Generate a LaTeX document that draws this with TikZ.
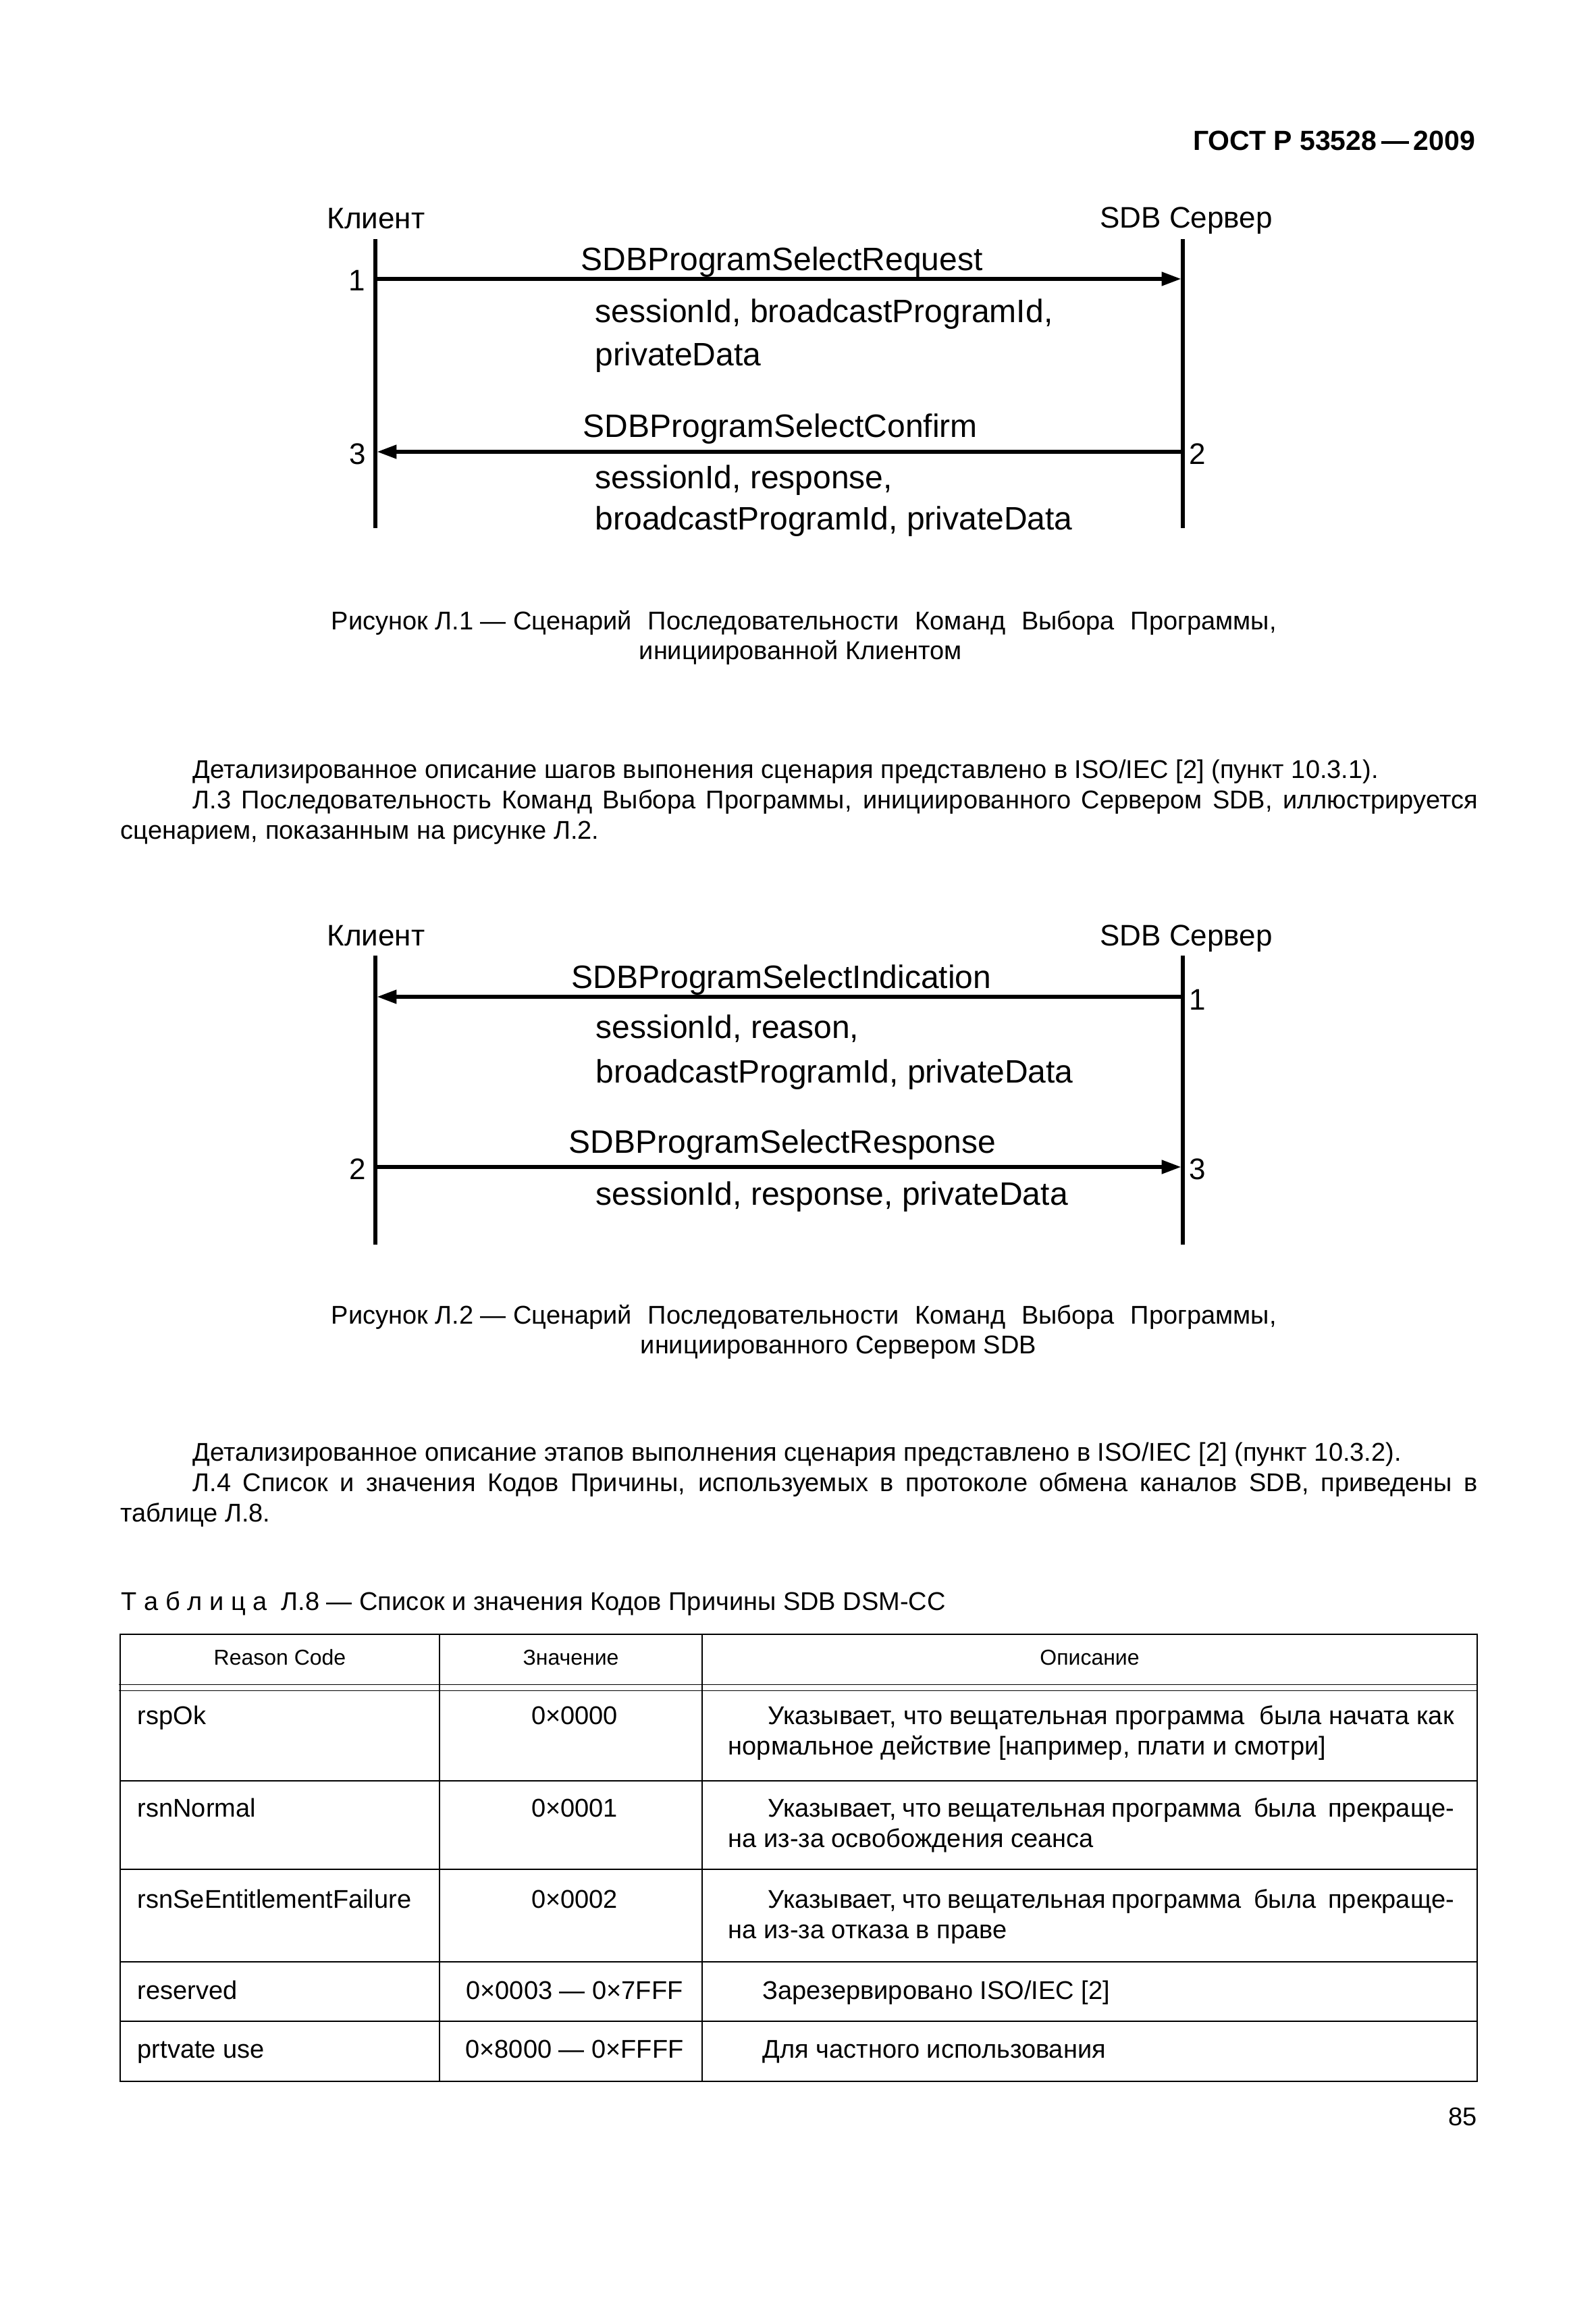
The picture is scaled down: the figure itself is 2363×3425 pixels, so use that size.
\documentclass[tikz,border=0pt]{standalone}
\usepackage{fontspec}
\setmainfont{Liberation Sans}
\usetikzlibrary{arrows.meta}
\newdimen\px \px=0.263pt
\newcommand{\fsz}[1]{\fontsize{#1\px}{#1\px}\selectfont}
\begin{document}
\begin{tikzpicture}[x=0.263pt,y=-0.263pt,
  txt/.style={inner sep=0pt, anchor=base west, font=\fsz{38}},
  ctxt/.style={inner sep=0pt, anchor=base, font=\fsz{38}},
  lbl/.style={inner sep=0pt, anchor=base, font=\fsz{44}},
  msgtxt/.style={inner sep=0pt, anchor=base west, font=\fsz{48}},
  numl/.style={inner sep=0pt, anchor=east, font=\fsz{44}},
  numr/.style={inner sep=0pt, anchor=west, font=\fsz{44}},
  life/.style={line width=1.4pt},
  msg/.style={line width=1.4pt, -{Triangle[length=7.6pt,width=5.2pt]}},
  thdr/.style={inner sep=0pt, anchor=base, font=\fsz{32}},
  outer/.style={line width=0.6pt},
  rowline/.style={line width=0.65pt},
  colline/.style={line width=0.4pt},
  dbl/.style={line width=0.35pt}
]
\fill[white] (0,0) rectangle (2363,3425);
\useasboundingbox (0,0) rectangle (2363,3425);

% header
\node[inner sep=0pt, anchor=base east, font=\fsz{41}\bfseries] (hdr) at (2186,222) {ГОСТ Р 53528\,—\,2009};

% ---------- Figure 1 ----------
\node[lbl] (f1c) at (557,338) {Клиент};
\node[lbl] (f1s) at (1757,337) {SDB Сервер};
\coordinate (f1Lt) at (556,354); \coordinate (f1Lb) at (556,782);
\coordinate (f1Rt) at (1752,354); \coordinate (f1Rb) at (1752,782);
\draw[life] (f1Lt) -- (f1Lb);
\draw[life] (f1Rt) -- (f1Rb);
\coordinate (f1a1s) at (556,413); \coordinate (f1a1e) at (1749.5,413);
\draw[msg] (f1a1s) -- (f1a1e);
\coordinate (f1a2s) at (1752,669); \coordinate (f1a2e) at (558.5,669);
\draw[msg] (f1a2s) -- (f1a2e);
\node[numl] (f1n1) at (542,415) {1};
\node[numl] (f1n3) at (543,672) {3};
\node[numr] (f1n2) at (1761,672) {2};
\node[msgtxt] (f1m1) at (860,400) {SDBProgramSelectRequest};
\node[msgtxt] (f1p1) at (881,477) {sessionId, broadcastProgramId,};
\node[msgtxt] (f1p2) at (881,541) {privateData};
\node[msgtxt] (f1m2) at (863,647) {SDBProgramSelectConfirm};
\node[msgtxt] (f1p3) at (881,723) {sessionId, response,};
\node[msgtxt] (f1p4) at (881,784) {broadcastProgramId, privateData};

% caption 1
\node[txt] (cap1a) at (490,932) {\makebox[1400\px][s]{\mbox{Рисунок Л.1 — Сценарий} Последовательности Команд Выбора Программы,}};
\node[txt] (cap1b) at (946,976) {инициированной Клиентом};

% paragraph 1
\node[txt] (p1a) at (285,1152) {Детализированное описание шагов выпонения сценария представлено в ISO/IEC [2] (пункт 10.3.1).};
\node[txt] (p1b) at (285,1197) {\makebox[1903\px][s]{Л.3 Последовательность Команд Выбора Программы, инициированного Сервером SDB, иллюстрируется}};
\node[txt] (p1c) at (178,1242) {сценарием, показанным на рисунке Л.2.};

% ---------- Figure 2 ----------
\node[lbl] (f2c) at (557,1400) {Клиент};
\node[lbl] (f2s) at (1757,1400) {SDB Сервер};
\coordinate (f2Lt) at (556,1415); \coordinate (f2Lb) at (556,1843);
\coordinate (f2Rt) at (1752,1415); \coordinate (f2Rb) at (1752,1843);
\draw[life] (f2Lt) -- (f2Lb);
\draw[life] (f2Rt) -- (f2Rb);
\coordinate (f2a1s) at (1752,1476); \coordinate (f2a1e) at (558.5,1476);
\draw[msg] (f2a1s) -- (f2a1e);
\coordinate (f2a2s) at (556,1728); \coordinate (f2a2e) at (1749.5,1728);
\draw[msg] (f2a2s) -- (f2a2e);
\node[numr] (f2n1) at (1761,1480) {1};
\node[numl] (f2n2) at (543,1731) {2};
\node[numr] (f2n3) at (1761,1731) {3};
\node[msgtxt] (f2m1) at (846,1463) {SDBProgramSelectIndication};
\node[msgtxt] (f2p1) at (882,1537) {sessionId, reason,};
\node[msgtxt] (f2p2) at (882,1603) {broadcastProgramId, privateData};
\node[msgtxt] (f2m2) at (842,1707) {SDBProgramSelectResponse};
\node[msgtxt] (f2p3) at (882,1784) {sessionId, response, privateData};

% caption 2
\node[txt] (cap2a) at (490,1960) {\makebox[1400\px][s]{\mbox{Рисунок Л.2 — Сценарий} Последовательности Команд Выбора Программы,}};
\node[txt] (cap2b) at (948,2004) {инициированного Сервером SDB};

% paragraph 2
\node[txt] (p2a) at (285,2163) {Детализированное описание этапов выполнения сценария представлено в ISO/IEC [2] (пункт 10.3.2).};
\node[txt] (p2b) at (285,2208) {\makebox[1903\px][s]{Л.4 Список и значения Кодов Причины, используемых в протоколе обмена каналов SDB, приведены в}};
\node[txt] (p2c) at (178,2253) {таблице Л.8.};

% table title
\node[txt] (ttl) at (179,2384) {Т~а~б~л~и~ц~а~~Л.8 — Список и значения Кодов Причины SDB DSM-CC};

% ---------- Table ----------
\coordinate (tTL) at (178,2420); \coordinate (tBR) at (2188,3082);
\draw[outer] (tTL) rectangle (tBR);
\coordinate (c1t) at (651,2420); \coordinate (c1b) at (651,3082);
\coordinate (c2t) at (1040,2420); \coordinate (c2b) at (1040,3082);
\draw[colline] (c1t) -- (c1b);
\draw[colline] (c2t) -- (c2b);
\coordinate (d1l) at (176,2494.7); \coordinate (d1r) at (2188,2494.7);
\coordinate (d2l) at (176,2503.3); \coordinate (d2r) at (2188,2503.3);
\draw[dbl] (d1l) -- (d1r);
\draw[dbl] (d2l) -- (d2r);
\coordinate (r1l) at (178,2637); \coordinate (r1r) at (2188,2637);
\coordinate (r2l) at (178,2768); \coordinate (r2r) at (2188,2768);
\coordinate (r3l) at (178,2905); \coordinate (r3r) at (2188,2905);
\coordinate (r4l) at (178,2993); \coordinate (r4r) at (2188,2993);
\draw[rowline] (r1l) -- (r1r);
\draw[rowline] (r2l) -- (r2r);
\draw[rowline] (r3l) -- (r3r);
\draw[rowline] (r4l) -- (r4r);

\node[thdr] (h1) at (414.5,2465) {Reason Code};
\node[thdr] (h2) at (845.5,2465) {Значение};
\node[thdr] (h3) at (1614,2465) {Описание};

\node[txt] (a1) at (203,2553) {rspOk};
\node[ctxt] (b1) at (851,2553) {0×0000};
\node[txt] (e1a) at (1137,2553) {\makebox[1016\px][s]{Указывает, что вещательная программа\ \ была начата как}};
\node[txt] (e1b) at (1078,2598) {нормальное действие [например, плати и смотри]};

\node[txt] (a2) at (203,2690) {rsnNormal};
\node[ctxt] (b2) at (851,2690) {0×0001};
\node[txt] (e2a) at (1137,2690) {\makebox[1016\px][s]{Указывает, что вещательная программа\ \ была\ \ прекраще-}};
\node[txt] (e2b) at (1078,2735) {на из-за освобождения сеанса};

\node[txt] (a3) at (203,2825) {rsnSeEntitlementFailure};
\node[ctxt] (b3) at (851,2825) {0×0002};
\node[txt] (e3a) at (1137,2825) {\makebox[1016\px][s]{Указывает, что вещательная программа\ \ была\ \ прекраще-}};
\node[txt] (e3b) at (1078,2870) {на из-за отказа в праве};

\node[txt] (a4) at (203,2960) {reserved};
\node[ctxt] (b4) at (851,2960) {0×0003 — 0×7FFF};
\node[txt] (e4) at (1129,2960) {Зарезервировано ISO/IEC [2]};

\node[txt] (a5) at (203,3047) {prtvate use};
\node[ctxt] (b5) at (851,3047) {0×8000 — 0×FFFF};
\node[txt] (e5) at (1129,3047) {Для частного использования};

% page number
\node[inner sep=0pt, anchor=base east, font=\fsz{38}] (pg) at (2188,3147) {85};
\end{tikzpicture}
\end{document}
